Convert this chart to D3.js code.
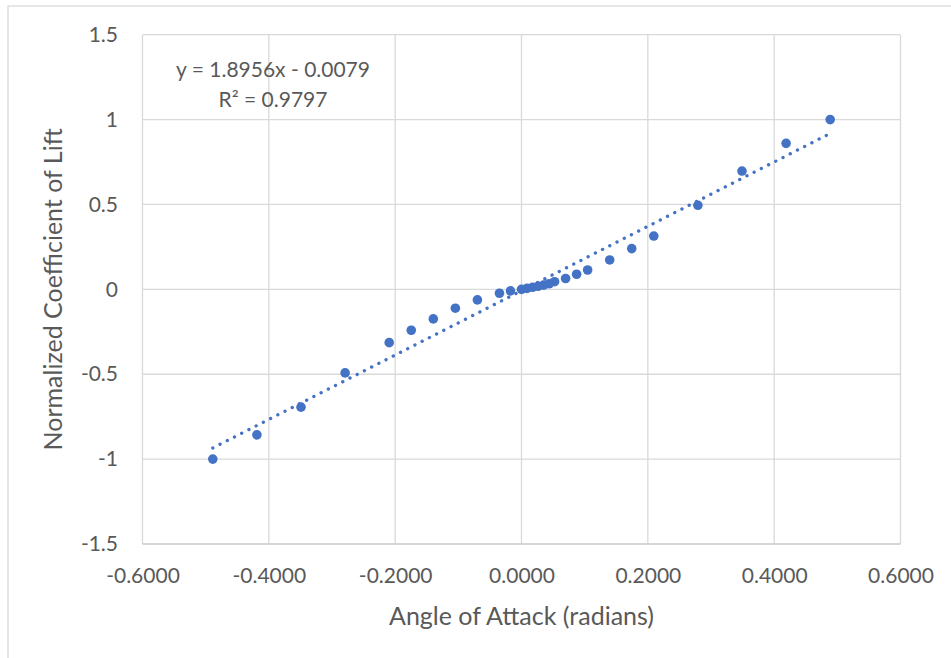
<!DOCTYPE html>
<html>
<head>
<meta charset="utf-8">
<script src="https://cdn.jsdelivr.net/npm/d3@7"></script>
<style>
  html, body { margin: 0; padding: 0; background: #fff; }
  svg { display: block; }
  text { font-family: Lato, "Open Sans", sans-serif; fill: #595959; }
</style>
</head>
<body>
<svg id="chart" width="951" height="658"></svg>
<script>
// Angle of attack in radians (degrees converted)
const angleDeg = [-28, -24, -20, -16, -12, -10, -8, -6, -4, -2, -1, 0,
                  0.5, 1, 1.5, 2, 2.5, 3, 4, 5, 6, 8, 10, 12, 16, 20, 24, 28];
const angleRad = angleDeg.map(d => d * Math.PI / 180);
// Normalized lift coefficient
const liftNorm = [-1.00, -0.857, -0.694, -0.492, -0.314, -0.241, -0.174, -0.111, -0.062, -0.023, -0.009, 0.000,
                  0.006, 0.012, 0.018, 0.025, 0.033, 0.045, 0.064, 0.089, 0.114, 0.173, 0.240, 0.314, 0.495, 0.697, 0.860, 1.00];

const xTicks = [-0.6, -0.4, -0.2, 0, 0.2, 0.4, 0.6];
const yTicks = [-1.5, -1, -0.5, 0, 0.5, 1, 1.5];

// Linear trendline
const slope = 1.8956, intercept = -0.0079, rSquared = 0.9797;

const svg = d3.select("#chart");
const W = 951, H = 658;
const plot = { left: 142.5, right: 900.5, top: 34.7, bottom: 544 };

// outer chart frame
svg.append("rect")
  .attr("x", 8).attr("y", 6).attr("width", W + 10).attr("height", H + 10)
  .attr("fill", "#fff").attr("stroke", "#d9d9d9").attr("stroke-width", 1.3);

const x = d3.scaleLinear().domain([-0.6, 0.6]).range([plot.left, plot.right]);
const y = d3.scaleLinear().domain([-1.5, 1.5]).range([plot.bottom, plot.top]);

// gridlines
const grid = svg.append("g");
grid.selectAll(".vg").data(xTicks).join("line")
  .attr("x1", d => x(d)).attr("x2", d => x(d))
  .attr("y1", plot.top).attr("y2", plot.bottom)
  .attr("stroke", "#d9d9d9").attr("stroke-width", 1.3);
grid.selectAll(".hg").data(yTicks).join("line")
  .attr("x1", plot.left).attr("x2", plot.right)
  .attr("y1", d => y(d)).attr("y2", d => y(d))
  .attr("stroke", d => d === -1.5 ? "#c8c8c8" : "#d9d9d9").attr("stroke-width", 1.3);

// axes (labels only)
const xAxis = d3.axisBottom(x).tickValues(xTicks).tickSize(0).tickPadding(0);
const gx = svg.append("g").attr("transform", `translate(0,${plot.bottom})`).call(xAxis);
gx.select(".domain").remove();
gx.selectAll("text").attr("y", 32).attr("dy", "0.32em").style("font-size", "21px")
  .text(d => d < 0 ? "-" + Math.abs(d).toFixed(4) : d.toFixed(4));

const yAxis = d3.axisLeft(y).tickValues(yTicks).tickSize(0).tickPadding(0);
const gy = svg.append("g").attr("transform", `translate(${118},0)`).call(yAxis);
gy.select(".domain").remove();
gy.selectAll("text").attr("x", 0).style("font-size", "21px")
  .text(d => d < 0 ? "-" + Math.abs(d) : String(d));

// axis titles
svg.append("text").attr("x", (plot.left + plot.right) / 2).attr("y", 616)
  .attr("text-anchor", "middle").attr("dy", "0.35em").style("font-size", "25px")
  .text("Angle of Attack (radians)");
svg.append("text")
  .attr("transform", `translate(53,${(plot.top + plot.bottom) / 2}) rotate(-90)`)
  .attr("text-anchor", "middle").attr("dy", "0.35em").style("font-size", "25px")
  .text("Normalized Coefficient of Lift");

// trendline over the data range
const xMin = d3.min(angleRad), xMax = d3.max(angleRad);
svg.append("line")
  .attr("x1", x(xMin)).attr("y1", y(slope * xMin + intercept))
  .attr("x2", x(xMax)).attr("y2", y(slope * xMax + intercept))
  .attr("stroke", "#4472c4").attr("stroke-width", 3.3)
  .attr("stroke-linecap", "round").attr("stroke-dasharray", "0.1 8");

// data markers
svg.append("g").selectAll("circle").data(angleRad).join("circle")
  .attr("cx", d => x(d)).attr("cy", (d, i) => y(liftNorm[i]))
  .attr("r", 4.8).attr("fill", "#4472c4");

// equation label
const eq = svg.append("text").attr("text-anchor", "middle").style("font-size", "21px");
eq.append("tspan").attr("x", 273).attr("y", 77)
  .text(`y = ${slope}x - ${Math.abs(intercept).toFixed(4)}`);
eq.append("tspan").attr("x", 273).attr("y", 107)
  .text(`R² = ${rSquared}`);
</script>
</body>
</html>
